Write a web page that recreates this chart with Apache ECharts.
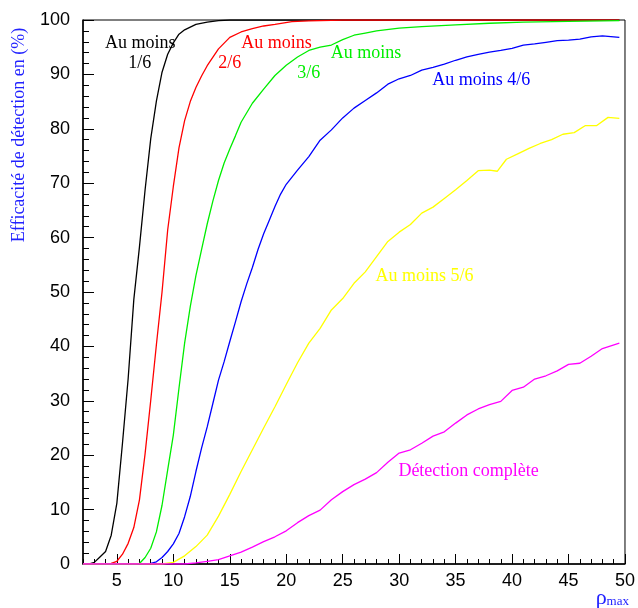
<!DOCTYPE html>
<html><head><meta charset="utf-8">
<script src="https://cdn.jsdelivr.net/npm/echarts@6/dist/echarts.min.js"></script>
<style>html,body{margin:0;padding:0;background:#fff}#c{width:638px;height:608px}</style>
</head><body><div id="c"></div>
<script>
const xTickLabels = [5,10,15,20,25,30,35,40,45,50];

const xBlack = [2,2.5,3,3.5,4,4.5,5,5.5,6,6.5,7,7.5,8,8.5,9,9.5,10,10.5,11,12,13,14,15,20,25,30,35,40,45,49.5];
const yBlack = [0,0,0.3,1.3,2.3,5.3,11.2,22.3,34.1,48.6,58.3,68.8,78.2,85.1,90.4,93.7,95.8,97.4,98.2,99.2,99.6,99.9,100,100,100,100,100,100,100,100];

const xRed = [2,4,4.5,5,5.5,6,6.5,7,7.5,8,8.5,9,9.5,10,10.5,11,11.5,12,12.5,13,14,15,16,17,18,19,20.5,22,25,30,35,40,45,49.5];
const yRed = [0,0,0.1,0.5,1.8,3.8,6.7,11.8,20.3,30.1,40.3,50.0,61.4,69.4,76.5,81.5,85.0,87.6,89.7,91.6,94.7,96.8,97.8,98.4,98.9,99.2,99.7,99.85,100,100,100,100,100,100];

const xGreen = [2,6.5,7,7.5,8,8.5,9,9.5,10,10.5,11,11.5,12,12.5,13,13.5,14,14.5,15,15.5,16,17,18,19,20,21,22,23,24,25,26,27,28,30,32,35,38,41,45,49.5];
const yGreen = [0,0,0.1,1.2,2.9,5.9,10.8,17.3,23.7,32.3,40.6,47.3,53.0,57.8,62.5,66.7,70.5,73.7,76.3,78.7,81.2,84.7,87.3,89.8,91.7,93.2,94.4,95.0,95.4,96.4,97.2,97.6,98.0,98.5,98.8,99.1,99.4,99.6,99.75,99.9];

const xBlue = [2,7.5,8,8.5,9,9.5,10,10.5,11,11.5,12,12.5,13,13.5,14,14.5,15,15.5,16,16.5,17,17.5,18,18.5,19,19.5,20,21,22,23,24,25,26,27,28,29,30,31,32,33,34,35,36,37,38,39,40,41,42,43,44,45,46,47,48,49.5];
const yBlue = [0,0,0.1,0.4,1.2,2.3,3.7,5.6,8.7,12.4,17.0,21.3,25.2,29.5,33.8,37.2,40.9,44.5,48.2,51.5,54.5,57.8,60.7,63.2,65.7,68.0,69.8,72.4,74.9,77.9,79.8,82.0,83.8,85.2,86.6,88.2,89.2,89.8,90.8,91.3,91.9,92.6,93.2,93.7,94.1,94.4,94.8,95.4,95.6,95.9,96.2,96.3,96.5,96.9,97.1,96.8];

const xYellow = [2,9,10,11,12,13,14,15,16,17,18,19,20,21,22,23,24,25,26,27,28,29,30,31,32,33,34,35,36,37,38,38.7,39.5,40.5,41.5,42.5,43.5,44.5,45.5,46.5,47.5,48.5,49.5];
const yYellow = [0,0,0.3,1.5,3.2,5.3,8.8,12.8,17.0,21.0,25.0,28.9,33.0,37.0,40.6,43.3,46.7,48.8,51.6,53.7,56.5,59.3,61.0,62.4,64.5,65.6,67.2,68.8,70.5,72.3,72.4,72.2,74.4,75.4,76.4,77.3,78.0,79.0,79.3,80.6,80.6,82.1,81.9];

const xMagenta = [2,11,12,13,14,15,16,17,18,19,20,21,22,23,24,25,26,27,28,29,30,31,32,33,34,35,36,37,38,39,40,41,42,43,44,45,46,47,48,49.5];
const yMagenta = [0,0,0.2,0.5,0.8,1.5,2.2,3.1,4.1,5.0,6.1,7.6,8.9,9.9,11.8,13.3,14.6,15.6,16.8,18.7,20.4,21.0,22.2,23.5,24.3,25.9,27.4,28.5,29.3,29.9,31.9,32.5,34.0,34.6,35.5,36.7,36.9,38.2,39.6,40.6];

const seriesNames = ['Au moins 1/6','Au moins 2/6','Au moins 3/6','Au moins 4/6','Au moins 5/6','Détection complète'];
const seriesColors = ['#000000','#ff0000','#00ee00','#0000ff','#ffff00','#ff00ff'];

// annotation texts with data coordinates of their centres
const annoTexts = ['Au moins','1/6','Au moins','2/6','Au moins','3/6','Au moins 4/6','Au moins 5/6','Détection complète'];
const annoX = [7.06,7.02,19.13,14.99,27.06,21.99,37.27,32.25,36.15];
const annoY = [95.8,92.1,95.8,92.1,93.9,90.3,89.0,52.9,17.1];
const annoColor = [0,0,1,1,2,2,3,4,5];

const xs = [xBlack,xRed,xGreen,xBlue,xYellow,xMagenta];
const ys = [yBlack,yRed,yGreen,yBlue,yYellow,yMagenta];

const chart = echarts.init(document.getElementById('c'), null, {renderer:'canvas'});
const tickFont = {fontFamily:'"Liberation Sans", Arial, sans-serif', fontSize:18, color:'#000'};
const series = xs.map((xa,i)=>({
  type:'line', name:seriesNames[i], xAxisIndex:0, yAxisIndex:0,
  data: xa.map((x,k)=>[x, ys[i][k]]),
  showSymbol:false, symbol:'none', silent:true,
  lineStyle:{color:seriesColors[i], width:1.3}, itemStyle:{color:seriesColors[i]}
}));

chart.setOption({
  animation:false,
  backgroundColor:'#fff',
  grid:{left:83, right:10, top:20, bottom:44, show:true, borderColor:'#000', borderWidth:1, containLabel:false},
  xAxis:[
    {type:'value', min:2, max:50, interval:1, position:'bottom',
     axisLine:{show:true, onZero:false, lineStyle:{color:'#000', width:1.5}},
     axisTick:{show:true, inside:true, length:5, lineStyle:{color:'#000', width:1}},
     axisLabel:{show:false}, splitLine:{show:false}},
    {type:'value', min:2, max:50, position:'bottom',
     axisLine:{show:false, onZero:false},
     axisTick:{show:true, inside:true, length:10, customValues:xTickLabels, lineStyle:{color:'#000', width:1}},
     axisLabel:Object.assign({show:true, margin:8, customValues:xTickLabels}, tickFont),
     splitLine:{show:false}}
  ],
  yAxis:{type:'value', min:0, max:100, interval:10,
     axisLine:{show:true, onZero:false, lineStyle:{color:'#000', width:1.5}},
     axisTick:{show:true, inside:true, length:11, lineStyle:{color:'#000', width:1}},
     minorTick:{show:true, splitNumber:5, length:6, lineStyle:{color:'#000', width:1}},
     axisLabel:Object.assign({margin:13}, tickFont),
     splitLine:{show:false}},
  series: series
});

const serif = '"Liberation Serif", "Times New Roman", serif';
const graphics = annoTexts.map((t,i)=>{
  const p = chart.convertToPixel({xAxisIndex:0, yAxisIndex:0}, [annoX[i], annoY[i]]);
  return {type:'text', x:p[0], y:p[1], silent:true, z:10,
    style:{text:t, fill:seriesColors[annoColor[i]], font:'18px '+serif, align:'center', verticalAlign:'middle'}};
});
graphics.push({type:'text', x:19, y:135, rotation:Math.PI/2, silent:true,
  style:{text:'Efficacité de détection en (%)', fill:'#2222ff', font:'18px '+serif, align:'center', verticalAlign:'middle'}});
graphics.push({type:'text', x:629, y:598, silent:true,
  style:{text:'{a|ρ}{b|max}', align:'right', verticalAlign:'middle',
    rich:{a:{fontSize:22, fontFamily:serif, fill:'#2222ff', color:'#2222ff'},
          b:{fontSize:13, fontFamily:serif, fill:'#2222ff', color:'#2222ff', padding:[8,0,0,0]}}}});
chart.setOption({graphic:graphics});
</script></body></html>
